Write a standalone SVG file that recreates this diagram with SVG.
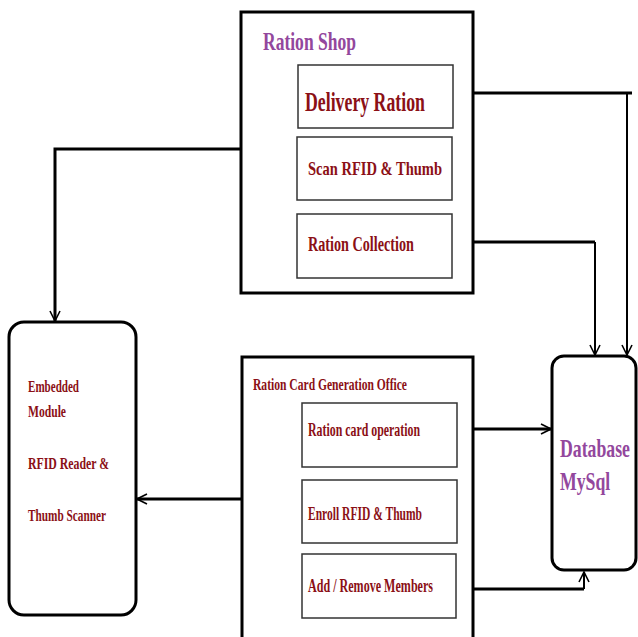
<svg xmlns="http://www.w3.org/2000/svg" width="638" height="637" viewBox="0 0 638 637">
<style>
.outer{fill:#fff;stroke:#000;stroke-width:3}
.inner{fill:#fff;stroke:#333;stroke-width:1.5}
.round{fill:#fff;stroke:#000;stroke-width:3}
.t{font-family:"Liberation Serif","Times New Roman",serif;font-weight:bold;fill:#8b1016}
.p{font-family:"Liberation Serif","Times New Roman",serif;font-weight:bold;fill:#93479d}
.c{fill:none;stroke:#000;stroke-width:3}
.c2{fill:none;stroke:#000;stroke-width:2}
</style>
<defs>
<marker id="ah" viewBox="0 0 12 12" refX="11" refY="6" markerWidth="12" markerHeight="12" markerUnits="userSpaceOnUse" orient="auto">
<path d="M1,1 L11,6 L1,11" fill="none" stroke="#000" stroke-width="1.6"/>
</marker>
</defs>
<rect width="638" height="637" fill="#fff"/>
<g id="ration-shop">
<rect class="outer" x="241" y="12" width="232" height="281"/>
<text class="p" x="263" y="50" font-size="25" textLength="93" lengthAdjust="spacingAndGlyphs">Ration Shop</text>
<rect class="inner" x="298" y="65" width="155" height="63"/>
<text class="t" x="305" y="111" font-size="27" textLength="120" lengthAdjust="spacingAndGlyphs">Delivery Ration</text>
<rect class="inner" x="297" y="137" width="155" height="63"/>
<text class="t" x="308" y="175" font-size="19" textLength="134" lengthAdjust="spacingAndGlyphs">Scan RFID &amp; Thumb</text>
<rect class="inner" x="297" y="214" width="155" height="64"/>
<text class="t" x="308" y="251" font-size="20" textLength="106" lengthAdjust="spacingAndGlyphs">Ration Collection</text>
</g>
<g id="ration-card-office">
<rect class="outer" x="242" y="357" width="231" height="283"/>
<text class="t" x="253" y="390" font-size="17" textLength="154" lengthAdjust="spacingAndGlyphs">Ration Card Generation Office</text>
<rect class="inner" x="302" y="403" width="155" height="64"/>
<text class="t" x="308" y="436" font-size="18" textLength="112" lengthAdjust="spacingAndGlyphs">Ration card operation</text>
<rect class="inner" x="302" y="480" width="155" height="63"/>
<text class="t" x="308" y="520" font-size="18" textLength="114" lengthAdjust="spacingAndGlyphs">Enroll RFID &amp; Thumb</text>
<rect class="inner" x="302" y="554" width="154" height="64"/>
<text class="t" x="308" y="592" font-size="18" textLength="125" lengthAdjust="spacingAndGlyphs">Add / Remove Members</text>
</g>
<g id="embedded-module">
<rect class="round" x="9" y="322" width="127" height="293" rx="15"/>
<text class="t" x="28" y="392" font-size="16" textLength="51" lengthAdjust="spacingAndGlyphs">Embedded</text>
<text class="t" x="28" y="417" font-size="16" textLength="38" lengthAdjust="spacingAndGlyphs">Module</text>
<text class="t" x="28" y="469" font-size="16" textLength="81" lengthAdjust="spacingAndGlyphs">RFID Reader &amp;</text>
<text class="t" x="28" y="521" font-size="16" textLength="78" lengthAdjust="spacingAndGlyphs">Thumb Scanner</text>
</g>
<g id="database">
<rect class="round" x="552" y="356" width="84" height="214" rx="12"/>
<text class="p" transform="translate(560,457) scale(0.683,1)" x="0" y="0" font-size="26">Database</text>
<text class="p" transform="translate(560,490) scale(0.683,1)" x="0" y="0" font-size="26">MySql</text>
</g>
<g id="connectors">
<path class="c" d="M241,149 H55 V321" marker-end="url(#ah)"/>
<path class="c" d="M242,499 H137" marker-end="url(#ah)"/>
<path class="c" d="M473,93 H632"/>
<path class="c2" d="M627,93 V355" marker-end="url(#ah)"/>
<path class="c" d="M473,242 H595"/>
<path class="c2" d="M595,242 V355" marker-end="url(#ah)"/>
<path class="c" d="M473,429 H551" marker-end="url(#ah)"/>
<path class="c" d="M473,589 H584"/>
<path class="c2" d="M584,589 V572" marker-end="url(#ah)"/>
</g>
</svg>
